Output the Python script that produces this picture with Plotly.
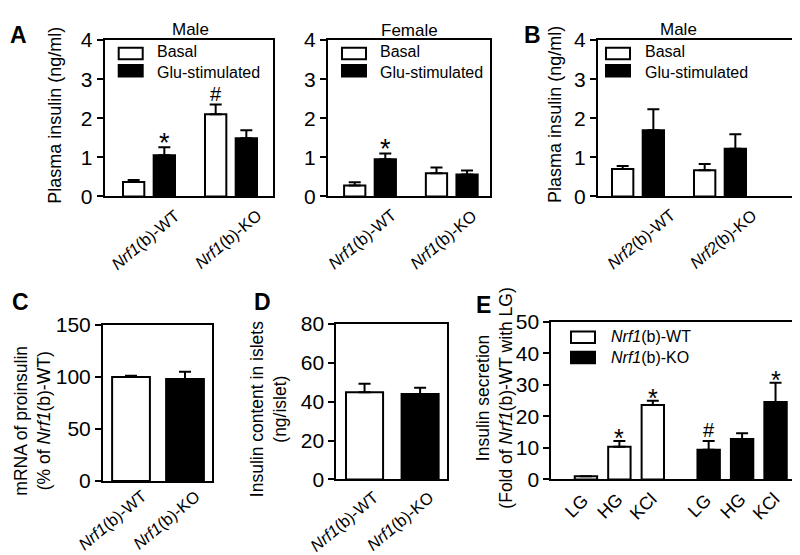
import plotly.graph_objects as go

# ---- data ----
groups_nrf1 = ["<i>Nrf1</i>(b)-WT", "<i>Nrf1</i>(b)-KO"]
groups_nrf2 = ["<i>Nrf2</i>(b)-WT", "<i>Nrf2</i>(b)-KO"]
series_names = ["Basal", "Glu-stimulated"]

male_basal = [0.37, 2.10]
male_basal_err = [0.05, 0.25]
male_glu = [1.05, 1.49]
male_glu_err = [0.21, 0.20]
male_basal_marks = ["", "#"]
male_glu_marks = ["*", ""]

female_basal = [0.28, 0.59]
female_basal_err = [0.08, 0.15]
female_glu = [0.95, 0.56]
female_glu_err = [0.15, 0.10]
female_basal_marks = ["", ""]
female_glu_marks = ["*", ""]

nrf2_basal = [0.70, 0.67]
nrf2_basal_err = [0.08, 0.16]
nrf2_glu = [1.69, 1.22]
nrf2_glu_err = [0.54, 0.37]

proinsulin = [100, 98]
proinsulin_err = [1, 7]

content = [44.8, 43.9]
content_err = [4.4, 3.3]

conditions = ["LG", "HG", "KCl"]
genotypes_e = ["<i>Nrf1</i>(b)-WT", "<i>Nrf1</i>(b)-KO"]
secretion_wt = [1.0, 10.4, 23.6]
secretion_wt_err = [0.0, 1.8, 1.4]
secretion_ko = [9.4, 12.8, 24.6]
secretion_ko_err = [2.8, 1.9, 6.1]
secretion_wt_marks = ["", "*", "*"]
secretion_ko_marks = ["#", "", "*"]

# ---- helpers ----
W, H = 800, 555
FONT = "Liberation Sans, Arial, sans-serif"


def px(x):
    return x / W


def py(y):
    return 1 - y / H


def ax(n, kind):
    return kind if n == 1 else f"{kind}{n}"


fig = go.Figure()


def bars(n, x, y, err, fill, width, offset):
    fig.add_trace(go.Bar(
        x=x, y=y, width=width, offset=offset,
        marker=dict(color=fill, line=dict(color="black", width=2)),
        error_y=dict(type="data", symmetric=False, array=err, arrayminus=[0] * len(err),
                     color="black", thickness=2, width=6),
        xaxis=ax(n, "x"), yaxis=ax(n, "y"), showlegend=False, hoverinfo="skip"))


def marks(n, xs, ys, errs, syms, star=27):
    for x, y, e, s in zip(xs, ys, errs, syms):
        if s:
            fig.add_annotation(xref=ax(n, "x"), yref=ax(n, "y"), x=x, y=y + e, text=s,
                               showarrow=False, yanchor="bottom", borderpad=0,
                               yshift=-12 if s == "*" else -1,
                               font=dict(size=star if s == "*" else 20))


def xlabels(n, xs, texts, dx, dy, angle, size=16.5):
    # rotated labels, placed by the centre of the rotated text
    for x, t in zip(xs, texts):
        fig.add_annotation(xref=ax(n, "x"), yref=ax(n, "y") + " domain", x=x, y=0, text=t,
                           textangle=angle, xanchor="center", yanchor="middle", borderpad=0,
                           xshift=dx, yshift=-dy, showarrow=False, font=dict(size=size))


def legend(xbox, xtext, rows, labels, fills):
    for yy, fill in zip(rows, fills):
        fig.add_shape(type="rect", xref="paper", yref="paper", x0=px(xbox), x1=px(xbox + 24),
                      y0=py(yy + 6), y1=py(yy - 6), fillcolor=fill,
                      line=dict(color="black", width=2))
    fig.add_annotation(xref="paper", yref="paper", x=px(xtext), y=py(sum(rows) / len(rows)),
                       text="<br>".join(labels), align="left", borderpad=0,
                       showarrow=False, xanchor="left", yanchor="middle", font=dict(size=16))


def text(x, y, t, size=17, angle=0, bold=False):
    fig.add_annotation(xref="paper", yref="paper", x=px(x), y=py(y),
                       text=f"<b>{t}</b>" if bold else t, textangle=angle, borderpad=0,
                       showarrow=False, xanchor="center", yanchor="middle", font=dict(size=size))


axes = {}


def frame(n, left, right, top, bottom, xrange, yrange, dtick):
    axes[ax(n, "xaxis")] = dict(domain=[px(left), px(right)], range=xrange, anchor=ax(n, "y"),
                                showline=True, linecolor="black", linewidth=2, mirror=True,
                                showticklabels=False, ticks="", showgrid=False, zeroline=False)
    axes[ax(n, "yaxis")] = dict(domain=[py(bottom), py(top)], range=yrange, anchor=ax(n, "x"),
                                showline=True, linecolor="black", linewidth=2, mirror=True,
                                ticks="outside", ticklen=6, tickwidth=2, tickcolor="black",
                                dtick=dtick, tickfont=dict(size=21, color="black"),
                                showgrid=False, zeroline=False)


# ---- A: male / female, B: Nrf2 male ----
bw, hs = 0.26, 0.187
pair_panels = [
    (1, (96.7, 265, 21, 184), [-0.54, 1.512], male_basal, male_basal_err, male_glu, male_glu_err, groups_nrf1, -3),
    (2, (320, 481.7, 21, 184), [-0.514, 1.464], female_basal, female_basal_err, female_glu, female_glu_err, groups_nrf1, -8),
    (3, (590, 795, 21, 184), [-0.488, 2.012], nrf2_basal, nrf2_basal_err, nrf2_glu, nrf2_glu_err, groups_nrf2, 3),
]
for n, box, xr, b, be, g, ge, labels, shift in pair_panels:
    frame(n, *box, xr, [0, 4], 1)
    xs = list(range(len(labels)))
    bars(n, xs, b, be, "white", bw, -hs - bw / 2)
    bars(n, xs, g, ge, "black", bw, hs - bw / 2)
    xlabels(n, xs, labels, shift, 43, -40)
    legend(box[0] + (14 if n != 3 else 8), box[0] + (51 if n != 3 else 46), [35, 53], series_names, ["white", "black"])

marks(1, [x - hs for x in range(2)], male_basal, male_basal_err, male_basal_marks)
marks(1, [x + hs for x in range(2)], male_glu, male_glu_err, male_glu_marks)
marks(2, [x - hs for x in range(2)], female_basal, female_basal_err, female_basal_marks)
marks(2, [x + hs for x in range(2)], female_glu, female_glu_err, female_glu_marks)

# ---- C ----
frame(4, 95, 204, 318, 481, [-0.519, 1.5], [0, 150], 50)
bars(4, [0, 1], proinsulin, proinsulin_err, ["white", "black"], 0.70, -0.35)
xlabels(4, [0, 1], groups_nrf1, -19, 39, -40)

# ---- D ----
frame(5, 328.3, 439.3, 317, 479.3, [-0.508, 1.49], [0, 80], 20)
bars(5, [0, 1], content, content_err, ["white", "black"], 0.667, -0.333)
xlabels(5, [0, 1], groups_nrf1, -20, 42, -40)

# ---- E ----
step = 3.67
wt_x = [i for i in range(len(conditions))]
ko_x = [step + i for i in range(len(conditions))]
frame(6, 543.3, 797.3, 315, 479.3, [-1.036, 6.56], [0, 50], 10)
bars(6, wt_x, secretion_wt, secretion_wt_err, "white", 0.67, -0.335)
bars(6, ko_x, secretion_ko, secretion_ko_err, "black", 0.67, -0.335)
marks(6, wt_x, secretion_wt, secretion_wt_err, secretion_wt_marks, star=25)
marks(6, ko_x, secretion_ko, secretion_ko_err, secretion_ko_marks, star=25)
xlabels(6, wt_x + ko_x, conditions + conditions, -9, 27, -45, size=18)
legend(563, 602, [331, 352], genotypes_e, ["white", "black"])

# ---- titles and axis titles ----
text(182, 10, "Male")
text(402, 11, "Female")
text(670, 10, "Male")
text(47, 100, "Plasma insulin (ng/ml)", size=18, angle=-90)
text(547, 99, "Plasma insulin (ng/ml)", size=18, angle=-90)
text(25, 418, "mRNA of proinsulin<br>(% of <i>Nrf1</i>(b)-WT)", size=17.5, angle=-90)
text(260, 406, "Insulin content in islets<br>(ng/islet)", size=17.5, angle=-90)
text(487, 395, "Insulin secretion<br>(Fold of <i>Nrf1</i>(b)-WT with LG)", size=17.5, angle=-90)

# panel letters
for letter, x, y in [("A", 10, 16), ("B", 524, 16), ("C", 12, 294), ("D", 254, 294), ("E", 475, 297)]:
    text(x, y, letter, size=23, bold=True)

fig.update_layout(
    width=W, height=H, margin=dict(l=0, r=0, t=0, b=0),
    paper_bgcolor="white", plot_bgcolor="white",
    font=dict(family=FONT, color="black", size=17),
    barmode="overlay", showlegend=False,
    **axes,
)

fig.write_html("out.html")
